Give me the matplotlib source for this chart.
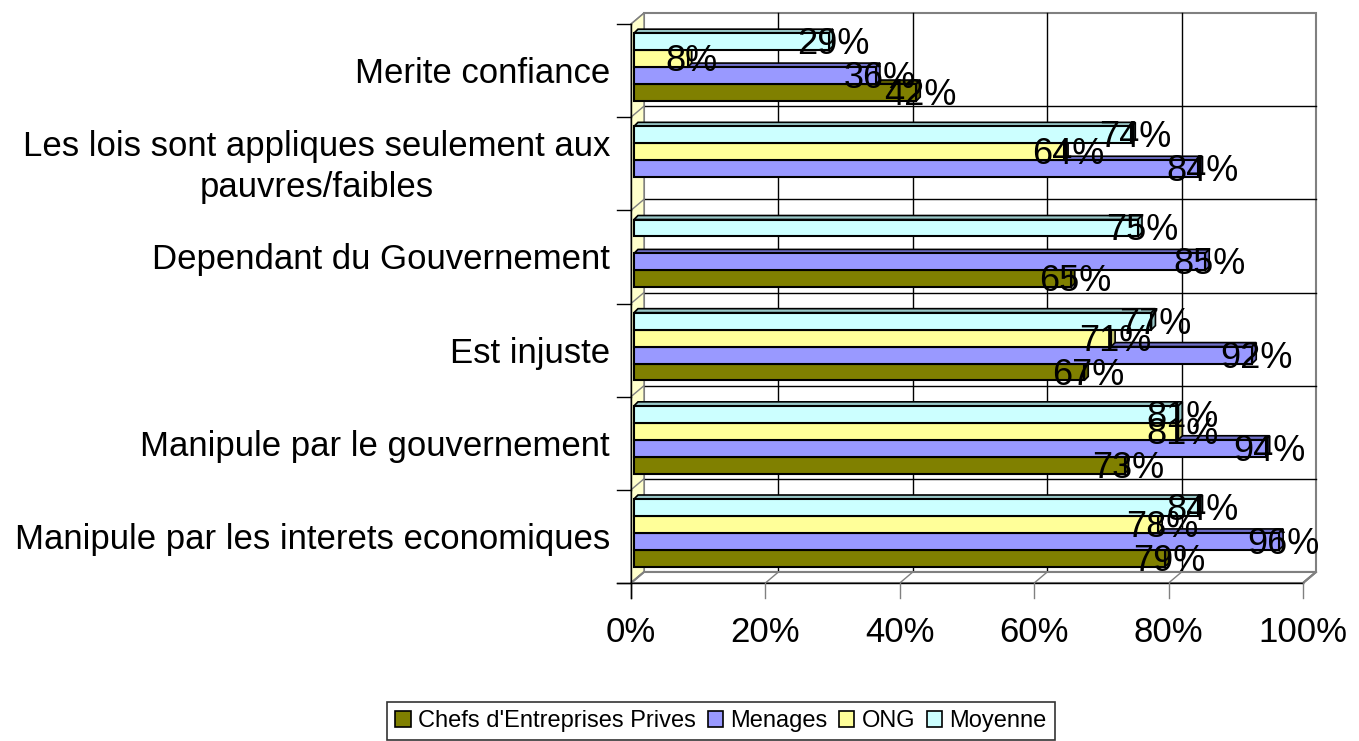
import matplotlib.pyplot as plt
from matplotlib.patches import Polygon, Rectangle
from matplotlib.lines import Line2D
import numpy as np

plt.rcParams['font.family'] = ['Liberation Sans', 'DejaVu Sans']

categories = [
    "Manipule par les interets economiques",
    "Manipule par le gouvernement",
    "Est injuste",
    "Dependant du Gouvernement",
    "Les lois sont appliques seulement aux\npauvres/faibles",
    "Merite confiance",
]
series = ["Chefs d'Entreprises Prives", "Menages", "ONG", "Moyenne"]
chefs = [79, 73, 67, 65, np.nan, 42]
menages = [96, 94, 92, 85, 84, 36]
ong = [78, 81, 71, np.nan, 64, 8]
moyenne = [84, 81, 77, 75, 74, 29]
values = [chefs, menages, ong, moyenne]
x_ticks = [0, 20, 40, 60, 80, 100]

colors = ['#808000', '#9999FF', '#FFFF99', '#CCFFFF']
tops = ['#5c5c00', '#6f6fc8', '#c8c870', '#99c8c8']

W, H = 1359, 741
fig = plt.figure(figsize=(W / 100, H / 100), dpi=100)
ax = fig.add_axes([631 / W, (H - 583) / H, 672 / W, (583 - 24) / H])
ax.set_xlim(0, 100)
ax.set_ylim(-0.5, len(categories) - 0.5)
ax.axis('off')

DX, DY = 13, 11      # depth of the back wall, pixels
BDX, BDY = 4, 4      # depth of a bar, pixels


def px(x, y):
    return ax.transData.transform((x, y))


def poly(points, **kw):
    p = Polygon(points, closed=True, transform=None, **kw)
    fig.add_artist(p)


def line(p0, p1, color='black', lw=1.0, z=2):
    fig.add_artist(Line2D([p0[0], p1[0]], [p0[1], p1[1]], color=color,
                          lw=lw, transform=None, zorder=z))


ymin, ymax = -0.5, len(categories) - 0.5
gray = '#808080'

# back wall
bl = px(0, ymin) + (DX, DY)
tr = px(100, ymax) + (DX, DY)
poly([bl, (tr[0], bl[1]), tr, (bl[0], tr[1])], facecolor='white',
     edgecolor=gray, lw=1.5, zorder=1)
for t in x_ticks[1:-1]:
    line(px(t, ymin) + (DX, DY), px(t, ymax) + (DX, DY), z=1.5)
for k in range(1, len(categories)):
    line(px(0, k - 0.5) + (DX, DY), px(100, k - 0.5) + (DX, DY), z=1.5)

# left wall
poly([px(0, ymin), px(0, ymax), px(0, ymax) + (DX, DY), px(0, ymin) + (DX, DY)],
     facecolor='#FFFFCC', edgecolor=gray, lw=1, zorder=1.6)
# floor
poly([px(0, ymin), px(100, ymin), px(100, ymin) + (DX, DY), px(0, ymin) + (DX, DY)],
     facecolor='white', edgecolor=gray, lw=1.5, zorder=1.6)
line(px(100, ymin), px(100, ymin) + (DX, DY), color=gray, lw=1.5, z=1.7)

# front axes with ticks
line(px(0, ymin) - (14, 0), px(100, ymin), z=3)
line(px(0, ymin) - (0, 15), px(0, ymax), z=3)
for t in x_ticks:
    line(px(t, ymin), px(t, ymin) - (0, 15), color='black' if t == 0 else gray, z=3)
    line(px(t, ymin), px(t, ymin) + (DX, DY), color=gray, z=1.8)
    p = px(t, ymin)
    fig.text(p[0] / W, (p[1] - 50) / H, f"{t}%", ha='center', va='center', fontsize=25)
for k in range(len(categories) + 1):
    p = px(0, k - 0.5)
    line(p - (14, 0), p, z=3)
    line(p, p + (DX, DY), color=gray, z=1.8)

# category labels
for k, name in enumerate(categories):
    p = px(0, k)
    fig.text(610 / W, (p[1] - 3) / H, name, ha='right', va='center',
             multialignment='center', fontsize=25, linespacing=1.3)

# bars
bh = 0.182
shift = 3.5 / (ax.transData.transform((0, 1))[1] - ax.transData.transform((0, 0))[1])
labels = []
for k in range(len(categories)):
    for i, vals in enumerate(values):
        v = vals[k]
        if np.isnan(v):
            continue
        yc = k + shift + (i - 1.5) * bh
        a = px(0, yc - bh / 2) + (3, 0)
        b = px(v, yc + bh / 2) + (3, 0)
        z = 4 + k * 0.1 + i * 0.01
        poly([(a[0], b[1]), (b[0], b[1]), (b[0] + BDX, b[1] + BDY), (a[0] + BDX, b[1] + BDY)],
             facecolor=tops[i], edgecolor='black', lw=1.2, zorder=z)
        poly([(b[0], a[1]), (b[0] + BDX, a[1] + BDY), (b[0] + BDX, b[1] + BDY), (b[0], b[1])],
             facecolor=tops[i], edgecolor='black', lw=1.2, zorder=z)
        fig.add_artist(Rectangle((a[0], a[1]), b[0] - a[0], b[1] - a[1], transform=None,
                                 facecolor=colors[i], edgecolor='black', lw=1.5, zorder=z + 0.001))
        labels.append(((b[0] + 4) / W, ((a[1] + b[1]) / 2 - 3) / H, f"{v:.0f}%"))

for x, y, s in labels:
    fig.text(x, y, s, ha='center', va='center', fontsize=26, zorder=10)

# legend
handles = [Rectangle((0, 0), 1, 1, facecolor=c, edgecolor='black', lw=1.2) for c in colors]
leg = fig.legend(handles, series, loc='center', bbox_to_anchor=(721 / W, 1 - 721 / H),
                 ncol=4, fontsize=17, frameon=True, fancybox=False, handlelength=0.65,
                 handleheight=0.65, handletextpad=0.3, columnspacing=0.5,
                 borderpad=0.35, borderaxespad=0)
leg.get_frame().set_edgecolor('black')
leg.get_frame().set_linewidth(1.2)

fig.savefig('out.png', dpi=100)
